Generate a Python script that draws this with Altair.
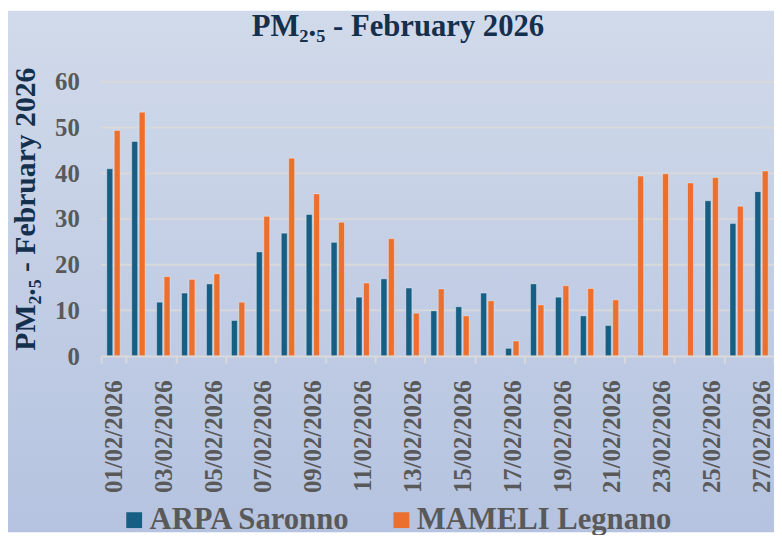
import altair as alt
import pandas as pd

days = [f"{d:02d}/02/2026" for d in range(1, 28)]
label_days = [f"{d:02d}/02/2026" for d in range(1, 28, 2)]
series = ["ARPA Saronno", "MAMELI Legnano"]
arpa = [41.0, 47.0, 11.8, 13.8, 15.8, 7.8, 22.8, 26.9, 31.0, 24.9, 12.9, 16.9, 14.9, 9.9,
        10.8, 13.8, 1.7, 15.8, 12.9, 8.8, 6.7, None, None, None, 34.0, 29.0, 36.0]
mameli = [49.4, 53.4, 17.4, 16.8, 18.0, 11.8, 30.6, 43.3, 35.5, 29.3, 16.0, 25.7, 9.4, 14.7,
          8.8, 12.1, 3.3, 11.2, 15.4, 14.8, 12.3, 39.4, 39.9, 37.9, 39.1, 32.8, 40.5]
colors = ["#165E83", "#EB7030"]
y_ticks = [0, 10, 20, 30, 40, 50, 60]

rows = []
for i, d in enumerate(days):
    rows.append({"day": d, "station": series[0], "value": arpa[i]})
    rows.append({"day": d, "station": series[1], "value": mameli[i]})
df = pd.DataFrame(rows)
grid_df = pd.DataFrame({"g": y_ticks[1:]})

W, H = 680, 277
PAD = {"left": 94, "top": 72, "right": 0, "bottom": 178}
FONT = "Liberation Serif"
NAVY = "#15304D"
GREY = "#595959"
GRID = "#D9D9D9"

y_scale = alt.Scale(domain=[0, 60], nice=False)

bg = alt.Chart(pd.DataFrame({"a": [0]})).mark_rect(
    fill=alt.LinearGradient(
        gradient="linear",
        stops=[alt.GradientStop(color="#D1DAEA", offset=0),
               alt.GradientStop(color="#B5C3E0", offset=1)],
        x1=0, x2=0, y1=0, y2=1,
    )
).encode(
    x=alt.value(-PAD["left"]), x2=alt.value(W + PAD["right"]),
    y=alt.value(-PAD["top"]), y2=alt.value(H + PAD["bottom"]),
)

grid = alt.Chart(grid_df).mark_rule(color=GRID, strokeWidth=1.8).encode(
    y=alt.Y("g:Q", scale=y_scale),
    x=alt.value(0), x2=alt.value(W),
)

bars = alt.Chart(df).mark_bar(stroke="#ffffff", strokeOpacity=0.35, strokeWidth=1).encode(
    x=alt.X("day:N", sort=days, title=None,
            scale=alt.Scale(paddingInner=0, paddingOuter=0),
            axis=alt.Axis(values=label_days, labelAngle=-90, tickBand="extent",
                          labelFont=FONT, labelFontSize=25, labelFontWeight="bold",
                          labelColor=GREY, labelPadding=17,
                          tickColor=GRID, tickSize=7, tickWidth=2,
                          domainColor=GRID, domainWidth=2, grid=False, zindex=1)),
    xOffset=alt.XOffset("station:N", sort=series,
                        scale=alt.Scale(paddingInner=0.2, paddingOuter=0.78)),
    y=alt.Y("value:Q", scale=y_scale,
            axis=alt.Axis(values=y_ticks, title="PM₂.₅ - February 2026",
                          titleFont=FONT, titleFontSize=30, titleFontWeight="bold",
                          titleColor=NAVY, titleAngle=-90, titleX=-67, titleY=128,
                          titleAlign="center", titleBaseline="alphabetic",
                          labelFont=FONT, labelFontSize=25, labelFontWeight="bold",
                          labelColor=GREY, labelPadding=22,
                          domain=False, ticks=False, grid=False, zindex=1)),
    color=alt.Color("station:N", sort=series,
                    scale=alt.Scale(domain=series, range=colors),
                    legend=alt.Legend(title=None, orient="none", direction="horizontal",
                                      legendX=18, legendY=427, padding=0,
                                      symbolType="square", symbolSize=256,
                                      symbolStrokeWidth=0, symbolOpacity=1,
                                      labelFont=FONT, labelFontSize=31,
                                      labelFontWeight="bold", labelColor=GREY,
                                      labelLimit=400, labelOffset=0,
                                      columnPadding=36)),
)

chart = alt.layer(bg, grid, bars).properties(
    width=W, height=H,
    autosize=alt.AutoSizeParams(type="none"),
    padding=PAD,
    title=alt.TitleParams(text="PM₂.₅ - February 2026", font=FONT, fontSize=31,
                          fontWeight="bold", color=NAVY, anchor="middle", dx=-40,
                          offset=-33),
).configure(font=FONT).configure_view(stroke=None)

chart.save("out.html", embed_options={"renderer": "svg", "actions": False})
